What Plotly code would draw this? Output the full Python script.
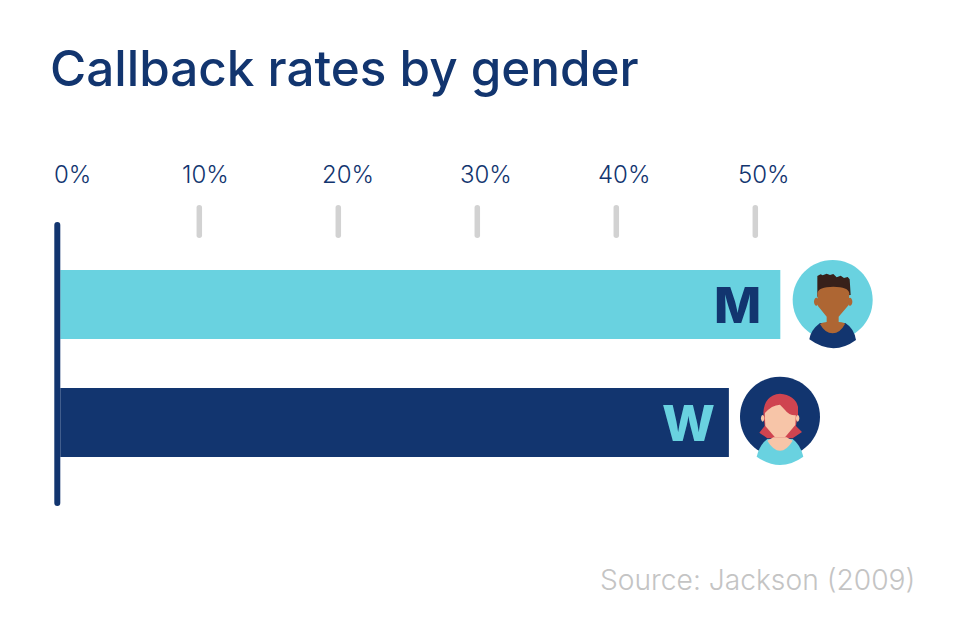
import re
import plotly.graph_objects as go

# --- Data ---
categories = ["M", "W"]
callback_rates = [51.8, 48.1]
tick_values = [0, 10, 20, 30, 40, 50]
tick_labels = ["0%", "10%", "20%", "30%", "40%", "50%"]

NAVY = "#12356f"
CYAN = "#69d2e0"
GREY = "#d2d2d2"
W, H = 966, 628
FONT = "Inter"

bar_colors = [CYAN, NAVY]
letter_colors = [NAVY, CYAN]
label_shift = [12, 6, 10, 9, 8, 9]
letter_shift = [-17, -12]


def px(d, ox=0, oy=0, s=1.0):
    # path written in picture pixels -> paper coordinates
    toks = re.findall(r"[A-Za-z]|-?[\d.]+", d)
    out, is_x = [], True
    for t in toks:
        if t.isalpha():
            out.append(t)
            is_x = True
        elif is_x:
            out.append(f"{(ox + float(t) * s) / W:.5f}")
            is_x = False
        else:
            out.append(f"{1 - (oy + float(t) * s) / H:.5f}")
            is_x = True
    return " ".join(out)


def pill(x, y0, y1, w):
    r = w / 2
    return (f"M {x-r} {y0+r} Q {x-r} {y0} {x} {y0} Q {x+r} {y0} {x+r} {y0+r} "
            f"L {x+r} {y1-r} Q {x+r} {y1} {x} {y1} Q {x-r} {y1} {x-r} {y1-r} Z")


def circle(cx, cy, rx, ry=None):
    ry = ry or rx
    k = 0.5523
    return (f"M {cx-rx} {cy} C {cx-rx} {cy-k*ry} {cx-k*rx} {cy-ry} {cx} {cy-ry} "
            f"C {cx+k*rx} {cy-ry} {cx+rx} {cy-k*ry} {cx+rx} {cy} "
            f"C {cx+rx} {cy+k*ry} {cx+k*rx} {cy+ry} {cx} {cy+ry} "
            f"C {cx-k*rx} {cy+ry} {cx-rx} {cy+k*ry} {cx-rx} {cy} Z")


def part(d, color, ox=0, oy=0, s=1.0):
    return dict(type="path", xref="paper", yref="paper", path=px(d, ox, oy, s),
                fillcolor=color, line=dict(width=0), layer="above")


fig = go.Figure()
fig.add_trace(go.Bar(
    y=categories, x=callback_rates, orientation="h", width=0.585,
    marker=dict(color=bar_colors, line=dict(width=0)), hoverinfo="skip",
))

shapes = []
# tick marks
for v in tick_values[1:]:
    x = 60.3 + v * 13.9
    shapes.append(part(pill(x, 205, 238, 5.5), GREY))
# axis line
shapes.append(part(pill(57.3, 222, 506, 6), NAVY))

# man avatar, zoom crop coordinates (3x) from 780,250
mo = dict(ox=780, oy=250, s=1 / 3)
shapes += [
    part(circle(158, 150, 120), CYAN, **mo),
    part("M 88 268 Q 92 240 120 219 L 196 219 Q 222 235 228 270 Q 160 320 88 268 Z", NAVY, **mo),
    part("M 112 78 L 122 73 L 128 76 L 140 71 L 150 75 L 160 72 L 170 82 L 182 77 L 192 84 L 203 81 "
         "L 209 88 L 212 135 L 112 140 Z", "#37201a", **mo),
    part(circle(109, 155, 7, 12), "#ae6633", **mo),
    part(circle(210, 155, 7, 12), "#ae6633", **mo),
    part("M 112 130 Q 115 110 160 110 Q 205 110 208 130 L 206 165 L 176 200 L 176 216 "
         "Q 195 218 195 222 Q 180 250 158 250 Q 135 250 120 222 Q 125 218 140 216 L 140 200 L 114 168 Z",
         "#ae6633", **mo),
]

# woman avatar, zoom crop coordinates (3x) from 730,370
wo = dict(ox=730, oy=370, s=1 / 3)
shapes += [
    part(circle(150, 140, 120), NAVY, **wo),
    part("M 100 130 L 104 168 L 88 188 L 112 205 L 188 205 L 216 186 L 198 168 L 204 130 Z", "#cf4450", **wo),
    part("M 80 260 Q 88 225 112 207 L 188 207 Q 212 225 220 260 Q 150 310 80 260 Z", CYAN, **wo),
    part("M 112 212 L 130 202 L 170 202 L 188 212 Q 170 242 150 242 Q 130 242 112 212 Z", "#f7c5a8", **wo),
    part(circle(98, 145, 5, 10), "#f7c5a8", **wo),
    part(circle(203, 145, 5, 10), "#f7c5a8", **wo),
    part("M 104 125 Q 108 100 150 100 Q 196 100 198 125 L 196 165 L 165 202 L 135 202 L 106 168 Z", "#f7c5a8", **wo),
    part("M 100 130 Q 102 75 150 71 Q 195 75 204 110 L 204 135 Q 180 140 165 120 L 150 104 Q 125 105 104 130 Z", "#cf4450", **wo),
]

annotations = [
    dict(x=47.5 / W, y=1 - 68 / H, xref="paper", yref="paper", xanchor="left", yanchor="middle",
         text="Callback rates by gender", showarrow=False,
         font=dict(family=FONT, size=49.4, color=NAVY, weight=500)),
    dict(x=917 / W, y=1 - 580 / H, xref="paper", yref="paper", xanchor="right", yanchor="middle",
         text="Source: Jackson (2009)", showarrow=False,
         font=dict(family=FONT, size=28.2, color="#c4c4c4", weight=300)),
]
for v, t, sh in zip(tick_values, tick_labels, label_shift):
    annotations.append(dict(x=v, y=1 - 174 / H, xref="x", yref="paper", yanchor="middle",
                            text=t, showarrow=False, xshift=sh,
                            font=dict(family=FONT, size=24, color=NAVY, weight=300)))
for c, v, col, sh in zip(categories, callback_rates, letter_colors, letter_shift):
    annotations.append(dict(x=v, y=c, xref="x", yref="y", xanchor="right", yanchor="middle",
                            text=c, showarrow=False, xshift=sh,
                            font=dict(family=FONT, size=50, color=col, weight=800)))

fig.update_layout(
    width=W, height=H, margin=dict(l=0, r=0, t=0, b=0, pad=0),
    paper_bgcolor="white", plot_bgcolor="white", showlegend=False,
    xaxis=dict(range=[-60.3 / 13.9, (W - 60.3) / 13.9], visible=False, fixedrange=True),
    yaxis=dict(range=[(H - 304.5) / 118, -304.5 / 118], visible=False, fixedrange=True,
               categoryorder="array", categoryarray=categories),
    shapes=shapes, annotations=annotations,
)

fig.write_html("out.html", post_script="document.body.style.margin = '0';",
               config=dict(displayModeBar=False))
